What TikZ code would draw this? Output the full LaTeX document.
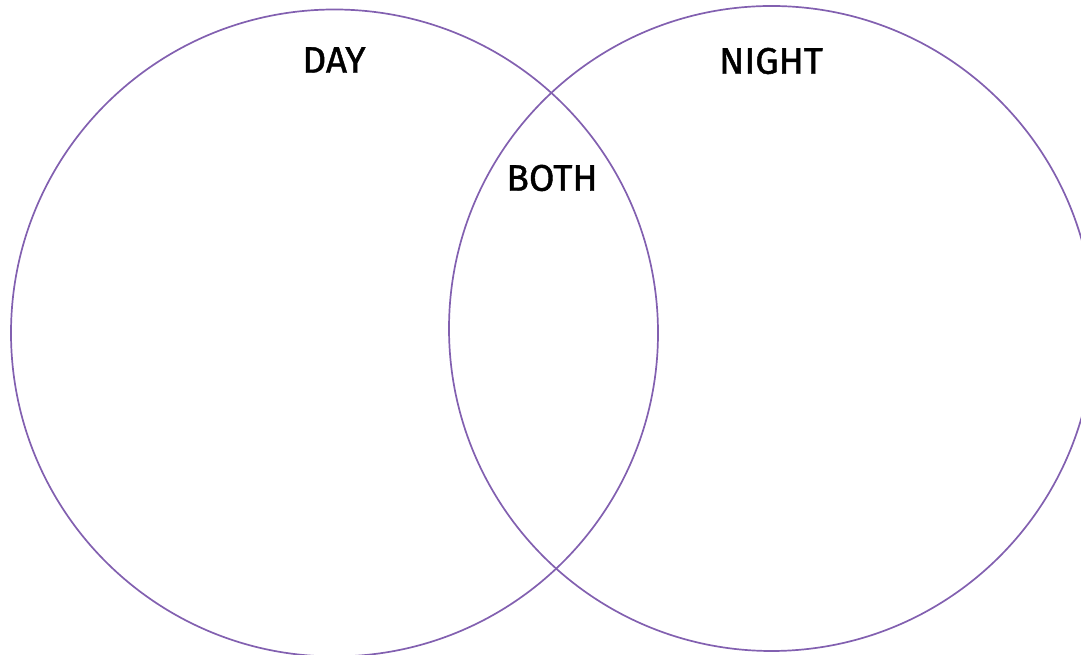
\documentclass[tikz,border=0pt]{standalone}
\usepackage{fontspec}
\setmainfont{Fira Sans}
\newfontfamily\vennfont{Fira Sans}[FakeBold=1.2]
\definecolor{vennpurple}{RGB}{130,96,176}
\tikzset{
  setcircle/.style={circle,draw=vennpurple,line width=1.7pt,inner sep=0pt,outer sep=0pt},
  setlabel/.style={font=\vennfont\fontsize{37}{44}\selectfont,text=black}
}
\begin{document}
\begin{tikzpicture}[x=1pt,y=1pt]
\useasboundingbox (0,0) rectangle (1081,655);
\clip (0,0) rectangle (1081,655);
\node[setcircle,minimum size=647] (day) at (334.5,322) {};
\node[setcircle,minimum size=645] (night) at (771.5,326.5) {};
\node[setlabel] (daylabel) at (334,595) {DAY};
\node[setlabel] (nightlabel) at (771,594) {NIGHT};
\node[setlabel] (bothlabel) at (552,477) {BOTH};
\end{tikzpicture}
\end{document}
